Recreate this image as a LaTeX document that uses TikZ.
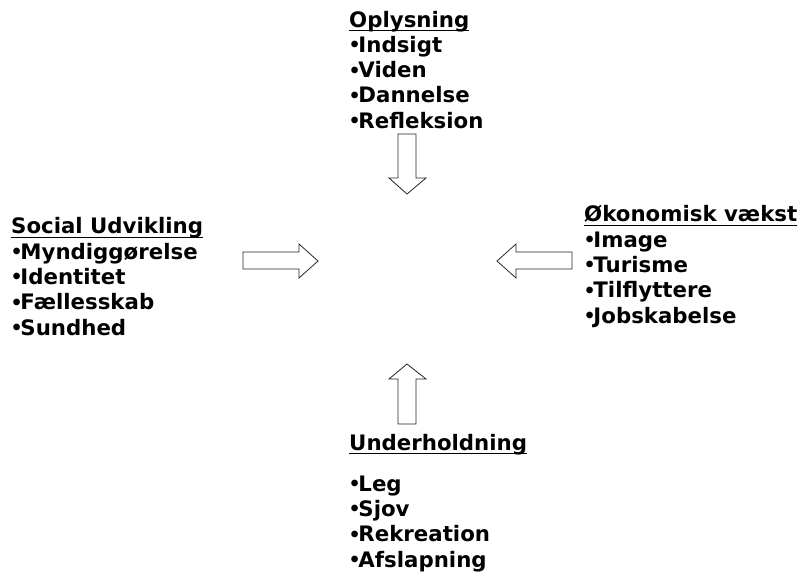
\documentclass[tikz,border=0pt]{standalone}
\usepackage{fontspec}
\setmainfont{DejaVu Sans}
\newcommand{\hd}[1]{\sbox0{#1}\rlap{\rule[-4.4pt]{\wd0}{1.4pt}}\usebox0}
\newcommand{\bul}{\kern-0.5pt{\fontsize{19}{19}\selectfont\raisebox{0.6pt}{•}}\kern-2.4pt}
\tikzset{
  block/.style={anchor=base west, inner sep=0pt, align=left,
    font=\bfseries\fontsize{21.3}{25.3}\selectfont},
  blockarrow/.style={draw=black!85, line width=0.8pt, fill=white, line join=miter}
}
\begin{document}
\begin{tikzpicture}[x=1pt, y=-1pt]
\useasboundingbox (0,0) rectangle (810,573);
% text blocks (anchor = baseline of the last line)
\node[block] (opl) at (349,128.2) {\hd{Oplysning}\\\bul Indsigt\\\bul Viden\\\bul Dannelse\\\bul Refleksion};
\node[block] (soc) at (11,335) {\hd{Social Udvikling}\\\bul Myndiggørelse\\\bul Identitet\\\bul Fællesskab\\\bul Sundhed};
\node[block] (oko) at (584,323) {\hd{Økonomisk vækst}\\\bul Image\\\bul Turisme\\\bul Tilflyttere\\\bul Jobskabelse};
\node[block] (und) at (349,450) {\hd{Underholdning}};
\node[block] (undlist) at (349,567) {\bul Leg\\\bul Sjov\\\bul Rekreation\\\bul Afslapning};
% block arrows
% down
\draw[blockarrow] (398,134) -- (416,134) -- (416,178) -- (426,178) -- (407,194)
  -- (389,178) -- (398,178) -- cycle;
% up
\draw[blockarrow] (398,424) -- (416,424) -- (416,379) -- (426,379) -- (407,364)
  -- (389,379) -- (398,379) -- cycle;
% right
\draw[blockarrow] (243,252) -- (299,252) -- (299,244) -- (318,261) -- (299,278)
  -- (299,269) -- (243,269) -- cycle;
% left
\draw[blockarrow] (572,252) -- (516,252) -- (516,244) -- (497,261) -- (516,278)
  -- (516,269) -- (572,269) -- cycle;
\end{tikzpicture}
\end{document}
